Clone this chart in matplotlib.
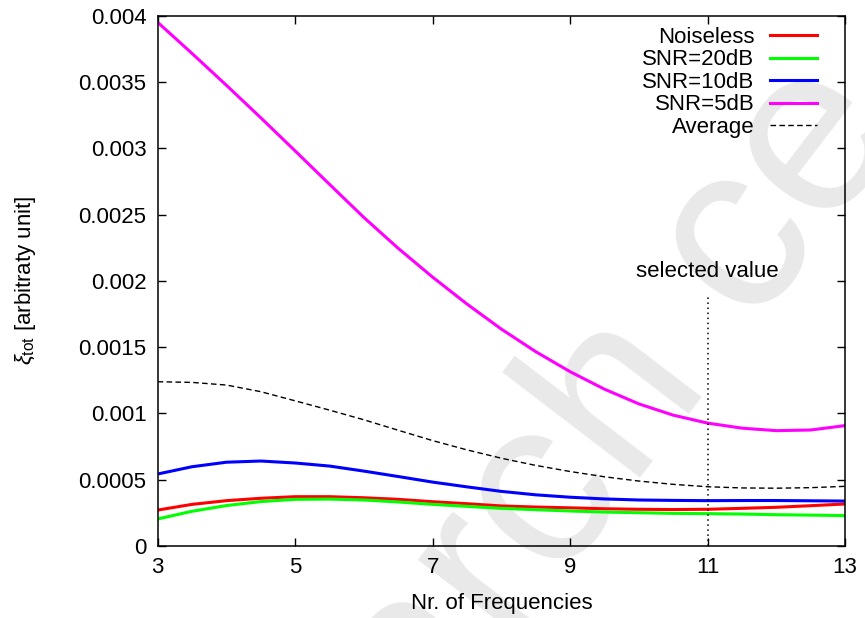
import matplotlib
matplotlib.use("Agg")
import matplotlib.pyplot as plt

# values at half steps of Nr. of frequencies
nr_freq = [3, 3.5, 4, 4.5, 5, 5.5, 6, 6.5, 7, 7.5, 8,
           8.5, 9, 9.5, 10, 10.5, 11, 11.5, 12, 12.5, 13]
noiseless = [0.000271, 0.000314, 0.000342, 0.000360, 0.000372, 0.000372,
             0.000364, 0.000352, 0.000334, 0.000319, 0.000302, 0.000294,
             0.000288, 0.000281, 0.000277, 0.000275, 0.000277, 0.000284,
             0.000292, 0.000304, 0.000317]
snr20 = [0.000204, 0.000262, 0.000305, 0.000335, 0.000352, 0.000354,
         0.000347, 0.000332, 0.000314, 0.000299, 0.000284, 0.000274,
         0.000264, 0.000256, 0.000251, 0.000246, 0.000244, 0.000241,
         0.000236, 0.000233, 0.000229]
snr10 = [0.000543, 0.000598, 0.000632, 0.000641, 0.000626, 0.000603,
         0.000565, 0.000524, 0.000482, 0.000446, 0.000412, 0.000386,
         0.000368, 0.000355, 0.000347, 0.000344, 0.000342, 0.000343,
         0.000343, 0.000341, 0.000339]
snr5 = [0.003950, 0.003715, 0.003475, 0.003230, 0.002980, 0.002728,
        0.002478, 0.002245, 0.002028, 0.001825, 0.001636, 0.001466,
        0.001315, 0.001183, 0.001072, 0.000987, 0.000927, 0.000889,
        0.000870, 0.000875, 0.000908]
average = [0.001239, 0.001234, 0.001214, 0.001164, 0.001095, 0.001025,
           0.000952, 0.000873, 0.000795, 0.000725, 0.000662, 0.000608,
           0.000562, 0.000522, 0.000490, 0.000465, 0.000447, 0.000438,
           0.000436, 0.000440, 0.000450]

selected = 11
selected_top = 0.0019

xticks = [3, 5, 7, 9, 11, 13]
yticks = [0, 0.0005, 0.001, 0.0015, 0.002, 0.0025, 0.003, 0.0035, 0.004]
ytick_labels = ["0", "0.0005", "0.001", "0.0015", "0.002", "0.0025",
                "0.003", "0.0035", "0.004"]

plt.rcParams['font.family'] = ['Liberation Sans', 'DejaVu Sans']
plt.rcParams['mathtext.fontset'] = 'custom'
plt.rcParams['mathtext.rm'] = 'Liberation Sans'
plt.rcParams['mathtext.it'] = 'Liberation Sans:italic'

fig = plt.figure(figsize=(8.65, 6.18), dpi=100)
ax = fig.add_axes([0.1823, 0.1165, 0.7946, 0.8581])
ax.set_facecolor('none')

# watermark behind everything
fig.text(0.772, 0.283, "arch ce", fontsize=173, color='#e9e9e9',
         rotation=52.6, rotation_mode='anchor', ha='center', va='baseline',
         zorder=-10)

ax.plot(nr_freq, noiseless, color='#ff0000', lw=2.2, label='Noiseless')
ax.plot(nr_freq, snr20, color='#00ff00', lw=2.2, label='SNR=20dB')
ax.plot(nr_freq, snr10, color='#0000ff', lw=2.2, label='SNR=10dB')
ax.plot(nr_freq, snr5, color='#ff00ff', lw=2.2, label='SNR=5dB')
ax.plot(nr_freq, average, color='black', lw=1.0, linestyle=(0, (4, 2.4)),
        label='Average')

ax.vlines(selected, 0, selected_top, color='black', lw=1.1,
          linestyle=(0, (1, 2.3)))
ax.text(selected, 0.00207, "selected value", fontsize=16, ha='center',
        va='center')

ax.set_xlim(3, 13)
ax.set_ylim(0, 0.004)
ax.set_xticks(xticks)
ax.set_yticks(yticks)
ax.set_yticklabels(ytick_labels)
ax.tick_params(direction='in', length=6, width=1, labelsize=16,
               top=True, right=True)
ax.tick_params(axis='x', pad=8)
ax.tick_params(axis='y', pad=8)
for s in ax.spines.values():
    s.set_linewidth(1.1)

ax.set_xlabel("Nr. of Frequencies", fontsize=16, labelpad=11)
ax.set_ylabel(r"$\xi_{\rm tot}$ [arbitraty unit]", fontsize=16, labelpad=29)

ax.legend(loc='upper right', bbox_to_anchor=(0.976, 1.0), frameon=False,
          markerfirst=False, fontsize=16, handlelength=2.15,
          handletextpad=0.68, labelspacing=0.07, borderaxespad=0.1)

fig.savefig("out.png", dpi=100)
